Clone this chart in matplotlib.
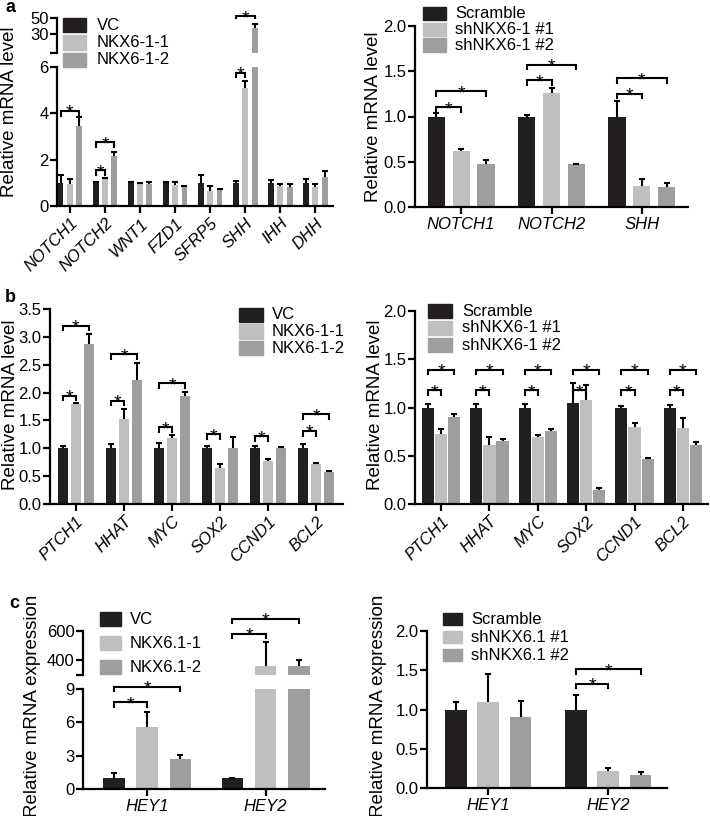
import numpy as np
import matplotlib
matplotlib.use("Agg")
from matplotlib import pyplot as plt
from matplotlib.patches import Rectangle

plt.rcParams['font.family'] = ['Liberation Sans', 'DejaVu Sans']

W, H = 710, 816
BLACK = '#231f20'
LIGHT = '#bfbfbf'
MID = '#9e9e9e'
colors = [BLACK, LIGHT, MID]

##########
# data a #
##########
a1_genes = ['NOTCH1', 'NOTCH2', 'WNT1', 'FZD1', 'SFRP5', 'SHH', 'IHH', 'DHH']
a1_labels = ['VC', 'NKX6-1-1', 'NKX6-1-2']
a1_vc = [1.0, 1.0, 1.0, 1.0, 1.0, 1.0, 1.0, 1.0]
a1_vc_err = [0.33, 0.03, 0.02, 0.03, 0.33, 0.1, 0.12, 0.15]
a1_n1 = [0.95, 1.15, 0.95, 0.9, 0.65, 5.1, 0.85, 0.8]
a1_n1_err = [0.2, 0.08, 0.05, 0.12, 0.2, 0.3, 0.08, 0.15]
a1_n2 = [3.45, 2.15, 0.95, 0.8, 0.7, 38.0, 0.8, 1.25]
a1_n2_err = [0.4, 0.2, 0.08, 0.08, 0.05, 5.0, 0.15, 0.28]
a1_sig_low = [(0, 2, 4.1), (1, 1, 1.55), (1, 2, 2.75), (5, 1, 5.75)]
a1_sig_high = [(5, 2, 52.0)]

a2_genes = ['NOTCH1', 'NOTCH2', 'SHH']
a2_labels = ['Scramble', 'shNKX6-1 #1', 'shNKX6-1 #2']
a2_sc = [1.0, 1.0, 1.0]
a2_sc_err = [0.04, 0.02, 0.17]
a2_s1 = [0.62, 1.26, 0.23]
a2_s1_err = [0.02, 0.05, 0.08]
a2_s2 = [0.48, 0.47, 0.22]
a2_s2_err = [0.04, 0.01, 0.04]
a2_sig = [(0, 1, 1.10), (0, 2, 1.28), (1, 1, 1.40), (1, 2, 1.57), (2, 1, 1.25), (2, 2, 1.42)]

##########
# data b #
##########
b_genes = ['PTCH1', 'HHAT', 'MYC', 'SOX2', 'CCND1', 'BCL2']
b1_labels = ['VC', 'NKX6-1-1', 'NKX6-1-2']
b1_vc = [1.0, 1.0, 1.0, 1.0, 1.0, 1.0]
b1_vc_err = [0.04, 0.07, 0.09, 0.05, 0.04, 0.07]
b1_n1 = [1.8, 1.53, 1.18, 0.65, 0.78, 0.72]
b1_n1_err = [0.02, 0.17, 0.05, 0.06, 0.02, 0.02]
b1_n2 = [2.88, 2.23, 1.93, 1.0, 1.0, 0.57]
b1_n2_err = [0.17, 0.3, 0.08, 0.2, 0.03, 0.02]
b1_sig = [(0, 1, 1.94), (0, 2, 3.2), (1, 1, 1.85), (1, 2, 2.69), (2, 1, 1.38), (2, 2, 2.17),
          (3, 1, 1.25), (4, 1, 1.22), (5, 1, 1.31), (5, 2, 1.61)]

b2_labels = ['Scramble', 'shNKX6-1 #1', 'shNKX6-1 #2']
b2_sc = [1.0, 1.0, 1.0, 1.05, 1.0, 1.0]
b2_sc_err = [0.04, 0.04, 0.04, 0.2, 0.02, 0.03]
b2_s1 = [0.73, 0.61, 0.69, 1.08, 0.8, 0.79]
b2_s1_err = [0.05, 0.08, 0.03, 0.15, 0.04, 0.1]
b2_s2 = [0.9, 0.65, 0.76, 0.15, 0.47, 0.61]
b2_s2_err = [0.03, 0.02, 0.02, 0.02, 0.01, 0.03]
b2_sig = [(g, j, y) for g in range(6) for j, y in ((1, 1.18), (2, 1.39))]

##########
# data c #
##########
c_genes = ['HEY1', 'HEY2']
c1_labels = ['VC', 'NKX6.1-1', 'NKX6.1-2']
c1_vc = [1.0, 0.95]
c1_vc_err = [0.4, 0.05]
c1_n1 = [5.6, 358.0]
c1_n1_err = [1.3, 170.0]
c1_n2 = [2.7, 360.0]
c1_n2_err = [0.35, 45.0]
c1_sig_low = [(0, 1, 7.8), (0, 2, 9.2)]
c1_sig_high = [(1, 1, 582.0), (1, 2, 684.0)]

c2_labels = ['Scramble', 'shNKX6.1 #1', 'shNKX6.1 #2']
c2_sc = [1.0, 1.0]
c2_sc_err = [0.09, 0.19]
c2_s1 = [1.09, 0.22]
c2_s1_err = [0.36, 0.03]
c2_s2 = [0.9, 0.17]
c2_s2_err = [0.21, 0.03]
c2_sig = [(1, 1, 1.33), (1, 2, 1.51)]


fig = plt.figure(figsize=(W / 100, H / 100), dpi=100)


def box(l, t, r, b):
    return [l / W, 1 - b / H, (r - l) / W, (b - t) / H]


def style(ax, xaxis=True):
    for s in ['top', 'right']:
        ax.spines[s].set_visible(False)
    ax.spines['left'].set_linewidth(1.6)
    ax.spines['bottom'].set_linewidth(1.6)
    ax.tick_params(axis='y', width=1.6, length=5, labelsize=12, pad=1)
    ax.tick_params(axis='x', width=1.6, length=5, labelsize=12, pad=2)
    if not xaxis:
        ax.spines['bottom'].set_visible(False)
        ax.tick_params(axis='x', bottom=False, labelbottom=False)


def bars(ax, series, errs, off, width, lo=None):
    n = len(series[0])
    x = np.arange(n)
    for i in range(3):
        xi = x + (i - 1) * off
        v = np.array(series[i], dtype=float)
        e = np.array(errs[i], dtype=float)
        ax.bar(xi, v, width, color=colors[i], zorder=2)
        keep = np.ones(n, bool) if lo is None else (v + e > lo)
        if keep.any():
            eb = ax.errorbar(xi[keep], v[keep], yerr=[np.zeros(keep.sum()), e[keep]], fmt='none',
                             ecolor='black', elinewidth=1.5, capsize=2.5, capthick=1.5, zorder=3)
            # only the upper cap is shown
            eb[1][0].set_visible(False)


def brackets(ax, sig, off, px_h):
    y0, y1 = ax.get_ylim()
    h = 4.5 / px_h * (y1 - y0)
    for g, j, y in sig:
        x1 = g - off
        x2 = g + (j - 1) * off
        ax.plot([x1, x1, x2, x2], [y - h, y, y, y - h], color='black', lw=1.5, clip_on=False,
                solid_joinstyle='miter', zorder=4)
        ax.annotate('*', xy=((x1 + x2) / 2, y), xytext=(0, -5), textcoords='offset points',
                    ha='center', va='baseline', fontsize=14, annotation_clip=False)


def legend(left, top, labels, row, pw, ph, gap, fs=12):
    for i in range(3):
        yc = top + i * row
        fig.add_artist(Rectangle((left / W, 1 - (yc + ph / 2) / H), pw / W, ph / H,
                                 color=colors[i], transform=fig.transFigure))
        fig.text((left + pw + gap) / W, 1 - yc / H, labels[i], va='center', ha='left', fontsize=fs)


def ylab(x, y, text):
    fig.text(x / W, 1 - y / H, text, rotation=90, va='center', ha='center', fontsize=13.5)


def rot_labels(ax, names):
    ax.set_xticks(range(len(names)))
    ax.set_xticklabels(names, rotation=45, ha='right', rotation_mode='anchor', style='italic',
                       fontsize=13.5)


# ---------------- panel a left (broken axis) ----------------
a1_series = [a1_vc, a1_n1, a1_n2]
a1_errs = [a1_vc_err, a1_n1_err, a1_n2_err]
ax = fig.add_axes(box(57, 67, 333, 206))
bars(ax, a1_series, a1_errs, 0.27, 0.17)
ax.set_xlim(-0.37, 7.51)
ax.set_ylim(0, 6)
ax.set_yticks([0, 2, 4, 6])
rot_labels(ax, a1_genes)
style(ax)
brackets(ax, a1_sig_low, 0.27, 139)

axu = fig.add_axes(box(57, 18, 333, 53))
bars(axu, a1_series, a1_errs, 0.27, 0.17, lo=6)
axu.set_xlim(-0.37, 7.51)
axu.set_ylim(6, 50)
axu.set_yticks([6, 30, 50])
axu.set_yticklabels(['', '30', '50'])
style(axu, xaxis=False)
brackets(axu, a1_sig_high, 0.27, 139)
legend(63, 25, a1_labels, 17.5, 23, 14, 11)
ylab(10, 112, 'Relative mRNA level')

# ---------------- panel a right ----------------
ax = fig.add_axes(box(415, 26, 688, 207))
bars(ax, [a2_sc, a2_s1, a2_s2], [a2_sc_err, a2_s1_err, a2_s2_err], 0.276, 0.19)
ax.set_xlim(-0.51, 2.51)
ax.set_ylim(0, 2.0)
ax.set_yticks([0, 0.5, 1.0, 1.5, 2.0])
ax.set_yticklabels(['0.0', '0.5', '1.0', '1.5', '2.0'])
ax.set_xticks(range(3))
ax.set_xticklabels(a2_genes, style='italic')
style(ax)
brackets(ax, a2_sig, 0.276, 181)
legend(423, 13, a2_labels, 16, 23, 13, 9)
ylab(373, 117, 'Relative mRNA level')

# ---------------- panel b left ----------------
ax = fig.add_axes(box(50, 309, 343, 504))
bars(ax, [b1_vc, b1_n1, b1_n2], [b1_vc_err, b1_n1_err, b1_n2_err], 0.27, 0.21)
ax.set_xlim(-0.54, 5.56)
ax.set_ylim(0, 3.5)
ax.set_yticks(np.arange(0, 3.6, 0.5))
ax.set_yticklabels(['%.1f' % v for v in np.arange(0, 3.6, 0.5)])
rot_labels(ax, b_genes)
style(ax)
brackets(ax, b1_sig, 0.27, 195)
legend(239, 315, b1_labels, 16.5, 24, 14, 9)
ylab(11, 405, 'Relative mRNA level')

# ---------------- panel b right ----------------
ax = fig.add_axes(box(415, 311, 708, 504))
bars(ax, [b2_sc, b2_s1, b2_s2], [b2_sc_err, b2_s1_err, b2_s2_err], 0.27, 0.25)
ax.set_xlim(-0.54, 5.52)
ax.set_ylim(0, 2.0)
ax.set_yticks([0, 0.5, 1.0, 1.5, 2.0])
ax.set_yticklabels(['0.0', '0.5', '1.0', '1.5', '2.0'])
rot_labels(ax, b_genes)
style(ax)
brackets(ax, b2_sig, 0.27, 193)
legend(428, 311, b2_labels, 17, 24, 14, 10)
ylab(376, 405, 'Relative mRNA level')

# ---------------- panel c left (broken axis) ----------------
c1_series = [c1_vc, c1_n1, c1_n2]
c1_errs = [c1_vc_err, c1_n1_err, c1_n2_err]
ax = fig.add_axes(box(83, 689, 325, 789))
bars(ax, c1_series, c1_errs, 0.28, 0.18)
ax.set_xlim(-0.54, 1.5)
ax.set_ylim(0, 9)
ax.set_yticks([0, 3, 6, 9])
ax.set_xticks(range(2))
ax.set_xticklabels(c_genes, style='italic')
style(ax)
brackets(ax, c1_sig_low, 0.28, 100)

axu = fig.add_axes(box(83, 631, 325, 675))
bars(axu, c1_series, c1_errs, 0.28, 0.18, lo=300)
axu.set_xlim(-0.54, 1.5)
axu.set_ylim(300, 600)
axu.set_yticks([300, 400, 600])
axu.set_yticklabels(['', '400', '600'])
style(axu, xaxis=False)
brackets(axu, c1_sig_high, 0.28, 44)
legend(100, 619, c1_labels, 24, 21, 14, 9)
ylab(33, 706, 'Relative mRNA expression')

# ---------------- panel c right ----------------
ax = fig.add_axes(box(427, 631, 667, 788))
bars(ax, [c2_sc, c2_s1, c2_s2], [c2_sc_err, c2_s1_err, c2_s2_err], 0.27, 0.18)
ax.set_xlim(-0.51, 1.49)
ax.set_ylim(0, 2.0)
ax.set_yticks([0, 0.5, 1.0, 1.5, 2.0])
ax.set_yticklabels(['0.0', '0.5', '1.0', '1.5', '2.0'])
ax.set_xticks(range(2))
ax.set_xticklabels(c_genes, style='italic')
style(ax)
brackets(ax, c2_sig, 0.27, 157)
legend(443, 619, c2_labels, 18, 19, 12, 9)
ylab(379, 706, 'Relative mRNA expression')

# panel letters
fig.text(5 / W, 1 - 8 / H, 'a', fontsize=13, fontweight='bold', va='center')
fig.text(5 / W, 1 - 297 / H, 'b', fontsize=13, fontweight='bold', va='center')
fig.text(9 / W, 1 - 603 / H, 'c', fontsize=13, fontweight='bold', va='center')

fig.savefig('out.png', dpi=100)
